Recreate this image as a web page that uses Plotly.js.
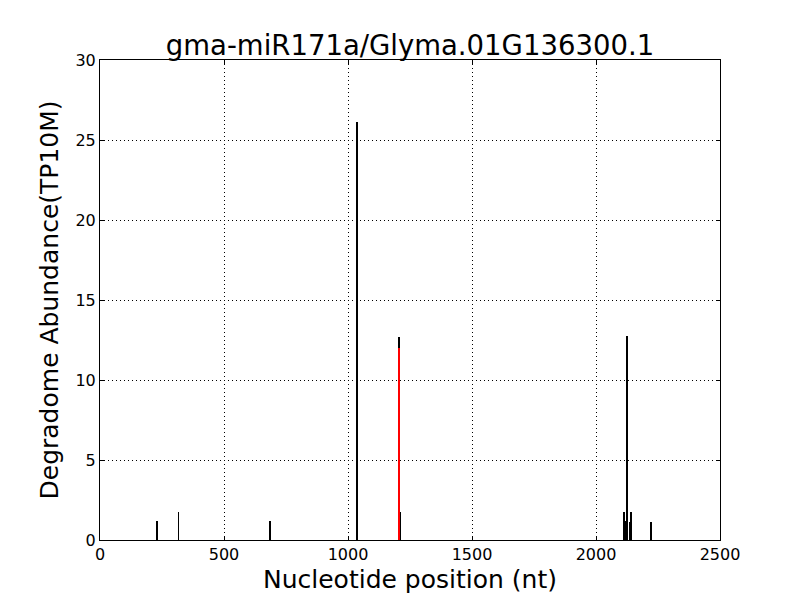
<!DOCTYPE html>
<html>
<head>
<meta charset="utf-8">
<script src="https://cdn.plot.ly/plotly-3.0.1.min.js"></script>
<style>html,body{margin:0;padding:0;background:#fff;}#chart{width:800px;height:600px;}</style>
</head>
<body>
<div id="chart"></div>
<script>
const positions = [231, 317, 685, 1035, 1038, 1205, 1211, 2114, 2116, 2125, 2126, 2127, 2138, 2142, 2223];
const abundance = [1.17, 1.77, 1.17, 26.1, 6.04, 12.7, 1.77, 1.77, 1.17, 12.75, 6.04, 4.9, 1.15, 1.77, 1.15];
const cleavagePos = [1206];
const cleavageVal = [12.0];
const chartTitle = "gma-miR171a/Glyma.01G136300.1";
const xTicks = [0, 500, 1000, 1500, 2000, 2500];
const yTicks = [0, 5, 10, 15, 20, 25, 30];

const font = "DejaVu Sans, sans-serif";
const traces = [
  {type: 'bar', x: positions, y: abundance, width: 7, marker: {color: '#000000', line: {width: 0}}, hoverinfo: 'x+y'},
  {type: 'bar', x: cleavagePos, y: cleavageVal, width: 7, marker: {color: '#ff0000', line: {width: 0}}, hoverinfo: 'x+y'}
];
const axisCommon = {
  showline: true, linecolor: '#000', linewidth: 1, mirror: 'ticks',
  ticks: 'inside', ticklen: 4, tickcolor: '#000', tickwidth: 1,
  showgrid: true, gridcolor: '#000', gridwidth: 1, griddash: '1px,3px',
  zeroline: false, tickfont: {family: font, size: 16, color: '#000'}
};
const layout = {
  width: 800, height: 600,
  margin: {l: 100, r: 80, t: 60, b: 60},
  paper_bgcolor: '#fff', plot_bgcolor: '#fff',
  showlegend: false, barmode: 'overlay', bargap: 0,
  title: {text: chartTitle, font: {family: font, size: 27.5, color: '#000'}, xref: 'paper', x: 0.5, xanchor: 'center', y: 0.925, yanchor: 'middle'},
  xaxis: Object.assign({}, axisCommon, {range: [0, 2500], tickvals: xTicks, ticktext: xTicks.map(String),
    title: {text: 'Nucleotide position (nt)', font: {family: font, size: 25, color: '#000'}, standoff: 7}}),
  yaxis: Object.assign({}, axisCommon, {range: [0, 30], tickvals: yTicks, ticktext: yTicks.map(String),
    title: {text: 'Degradome Abundance(TP10M)', font: {family: font, size: 25, color: '#000'}, standoff: 9}})
};
Plotly.newPlot('chart', traces, layout, {displayModeBar: false, staticPlot: true});
</script>
</body>
</html>
